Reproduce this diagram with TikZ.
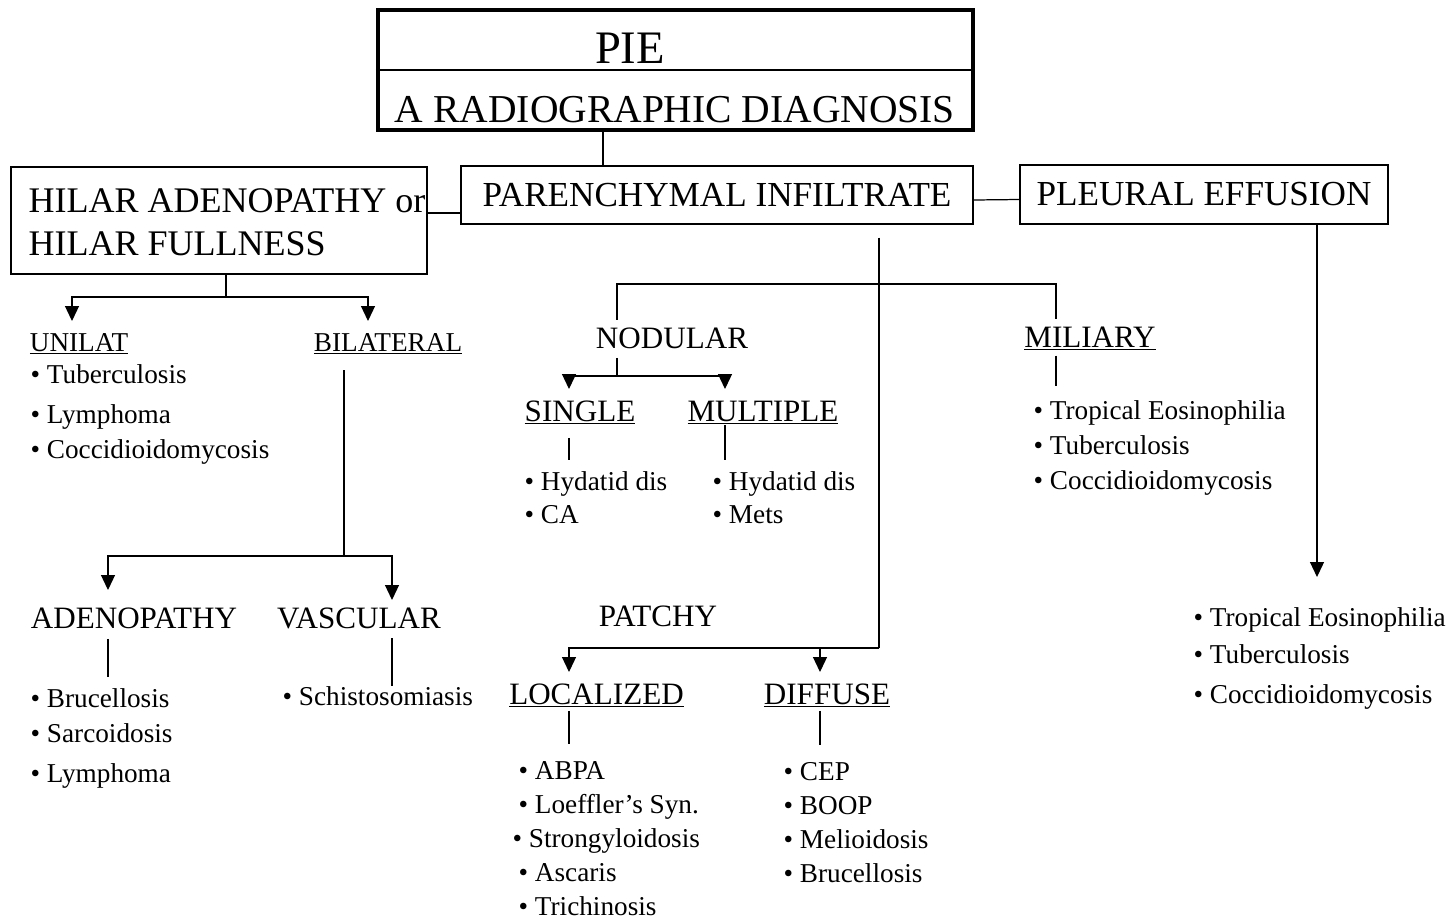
\documentclass[tikz,border=0pt]{standalone}
\usepackage{fontspec}
\setmainfont{Liberation Serif}
\usetikzlibrary{arrows.meta}

\begin{document}
\begin{tikzpicture}[x=0.02cm,y=-0.02cm,line width=0.7pt,
    box/.style={draw,inner sep=0pt,font=\fontsize{20}{24}\selectfont},
    head/.style={inner sep=0pt,anchor=base,font=\fontsize{17.7}{21}\selectfont},
    subhead/.style={inner sep=0pt,anchor=base,font=\fontsize{15.5}{19}\selectfont},
    items/.style={inner sep=0pt,anchor=base west,align=left,font=\fontsize{15.5}{19.84}\selectfont},
    arr/.style={-{Triangle[length=0.3cm,width=0.28cm]}}]
  \useasboundingbox (0,0) rectangle (1456,920);

  % title
  \node[draw,line width=2.4pt,inner sep=0pt,minimum width=11.9cm,minimum height=2.4cm] (title) at (675.5,70) {};
  \draw (title.west) -- (title.east);
  \node[inner sep=0pt,anchor=base,font=\fontsize{26.5}{30}\selectfont] (pie) at (630,63) {PIE};
  \node[inner sep=0pt,anchor=base,font=\fontsize{22.5}{26}\selectfont] (radio) at (675,122) {A RADIOGRAPHIC DIAGNOSIS};

  % main boxes
  \node[box,minimum width=8.32cm,minimum height=2.14cm] (hilar) at (219,220.5) {};
  \node[inner sep=0pt,anchor=base west,align=left,font=\fontsize{20.5}{24.4}\selectfont] (hilartext) at (28,255) {HILAR ADENOPATHY or\\HILAR FULLNESS};
  \node[box,minimum width=10.24cm,minimum height=1.16cm] (par) at (717,195) {PARENCHYMAL INFILTRATE};
  \node[box,minimum width=7.36cm,minimum height=1.18cm] (pleural) at (1204,194.5) {PLEURAL EFFUSION};

  % headings
  \node[subhead] (unilat) at (79,351) {\underline{UNILAT}};
  \node[subhead] (bilat) at (388,351) {\underline{BILATERAL}};
  \node[head] (nod) at (672,348) {NODULAR};
  \node[head] (mil) at (1090,347) {\underline{MILIARY}};
  \node[head] (single) at (580,421) {\underline{SINGLE}};
  \node[head] (mult) at (763,421) {\underline{MULTIPLE}};
  \node[head] (aden) at (134,628) {ADENOPATHY};
  \node[head] (vasc) at (359,628) {VASCULAR};
  \node[head] (patchy) at (658,626) {PATCHY};
  \node[head] (loc) at (596.5,704) {\underline{LOCALIZED}};
  \node[head] (diff) at (827,704) {\underline{DIFFUSE}};

  % lists (placed by the baseline of their last line)
  \node[items] (unilatlist) at (30,458) {• Tuberculosis\\[0.1cm]• Lymphoma\\• Coccidioidomycosis};
  \node[items] (singlelist) at (524,523) {• Hydatid dis\\[-0.04cm]• CA};
  \node[items] (multlist) at (712,523) {• Hydatid dis\\[-0.04cm]• Mets};
  \node[items] (millist) at (1033,489) {• Tropical Eosinophilia\\• Tuberculosis\\• Coccidioidomycosis};
  \node[items] (pleurlist) at (1193,703) {• Tropical Eosinophilia\\[0.04cm]• Tuberculosis\\[0.1cm]• Coccidioidomycosis};
  \node[items] (adenlist) at (30,782) {• Brucellosis\\• Sarcoidosis\\[0.1cm]• Lymphoma};
  \node[items] (vasclist) at (282,705) {• Schistosomiasis};
  \node[items] (loclist) at (518,915) {• ABPA\\[-0.02cm]• Loeffler’s Syn.\\[-0.02cm]\hspace*{-0.12cm}• Strongyloidosis\\[-0.02cm]• Ascaris\\[-0.02cm]• Trichinosis};
  \node[items] (difflist) at (783,882) {• CEP\\[-0.02cm]• BOOP\\[-0.02cm]• Melioidosis\\[-0.02cm]• Brucellosis};

  % bends and arrow ends
  \coordinate (stem) at (603,150);
  \coordinate (hp) at (0,213);
  \coordinate (j1) at (226,297);
  \coordinate (aunilat) at (72,321);
  \coordinate (abilat) at (368,321);
  \coordinate (j2) at (344,556);
  \coordinate (aaden) at (108,590);
  \coordinate (avasc) at (392,600);
  \coordinate (j3) at (879,648);
  \coordinate (aloc) at (569,672);
  \coordinate (adiff) at (820,672);
  \coordinate (k1) at (617,284);
  \coordinate (k2) at (1056,284);
  \coordinate (j4) at (617,376);
  \coordinate (asing) at (569,389);
  \coordinate (amult) at (725,389);
  \coordinate (apleur) at (1317,577);

  % connectors
  \draw (title.south -| stem) -- (par.north -| stem);
  \draw (hilar.east |- hp) -- (par.west |- hp);
  \draw ([yshift=-0.1cm]par.east) -- ([yshift=-0.1cm]pleural.west);

  \draw (hilar.south -| j1) -- (j1);
  \draw[arr] (j1) -| (aunilat);
  \draw[arr] (j1) -| (abilat);
  \draw[shorten <=0.3cm] (bilat.south -| j2) -- (j2);
  \draw[arr] (j2) -| (aaden);
  \draw[arr] (j2) -| (avasc);
  \draw[shorten <=0.2cm,shorten >=0.22cm] (aden.south -| aaden) -- (adenlist.north -| aaden);
  \draw[shorten <=0.18cm] (vasc.south -| avasc) -- (vasclist.north -| avasc);

  \draw[shorten <=0.26cm] (par.south -| j3) -- (j3);
  \draw[arr] (j3) -| (aloc);
  \draw[arr] (j3) -| (adiff);
  \draw[shorten <=0.14cm,shorten >=0.14cm] (nod.north -| k1) -- (k1) -- (k2) -- (mil.north -| k2);
  \draw[shorten <=0.18cm] (nod.south -| j4) -- (j4);
  \draw[arr] (j4) -| (asing);
  \draw[arr] (j4) -| (amult);
  \draw[shorten <=0.25cm,shorten >=0.22cm] (single.south -| asing) -- (singlelist.north -| asing);
  \draw[shorten >=0.22cm] (mult.south -| amult) -- (multlist.north -| amult);
  \draw[shorten <=0.09cm,shorten >=0.27cm] (mil.south -| k2) -- (millist.north -| k2);
  \draw[shorten <=0.05cm,shorten >=0.34cm] (loc.south -| aloc) -- (loclist.north -| aloc);
  \draw[shorten <=0.05cm,shorten >=0.34cm] (diff.south -| adiff) -- (difflist.north -| adiff);

  \draw[arr] (pleural.south -| apleur) -- (apleur);
\end{tikzpicture}
\end{document}
